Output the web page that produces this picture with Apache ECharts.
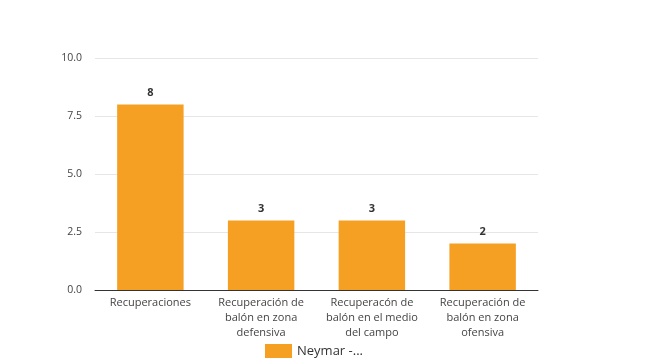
<!DOCTYPE html>
<html><head><meta charset="utf-8">
<script src="https://cdn.jsdelivr.net/npm/echarts@6/dist/echarts.min.js"></script>
<style>html,body{margin:0;padding:0;background:#fff}#c{width:649px;height:361px}</style>
</head><body><div id="c"></div>
<script>
const categories = ["Recuperaciones", "Recuperación de\nbalón en zona\ndefensiva", "Recuperacón de\nbalón en el medio\ndel campo", "Recuperación de\nbalón en zona\nofensiva"];
const values = [8, 3, 3, 2];
const seriesName = "Neymar -...";
const chart = echarts.init(document.getElementById('c'));
chart.setOption({
  animation: false,
  textStyle: {fontFamily: "Open Sans"},
  grid: {left: 95, right: 111, top: 58, bottom: 71},
  legend: {
    top: 342, left: 265, itemWidth: 27, itemHeight: 14, itemGap: 6, padding: [2, 0, 0, 0],
    textStyle: {fontSize: 13, color: '#333', fontFamily: 'Open Sans'},
    data: [{name: seriesName, icon: 'rect'}]
  },
  xAxis: {
    type: 'category', data: categories,
    axisLine: {lineStyle: {color: '#333', width: 1}},
    axisTick: {show: false},
    axisLabel: {color: '#444', fontSize: 11, lineHeight: 15, margin: 5, interval: 0}
  },
  yAxis: {
    type: 'value', min: 0, max: 10, interval: 2.5,
    axisLine: {show: false}, axisTick: {show: false},
    splitLine: {lineStyle: {color: '#e6e6e6'}},
    axisLabel: {color: '#444', fontSize: 10.5, margin: 13, formatter: v => v.toFixed(1)}
  },
  series: [{
    name: seriesName, type: 'bar', data: values, barWidth: '60%',
    itemStyle: {color: '#F5A023'},
    label: {show: true, position: 'top', color: '#333', fontWeight: 'bold', fontSize: 11, distance: 6}
  }]
});
</script></body></html>
